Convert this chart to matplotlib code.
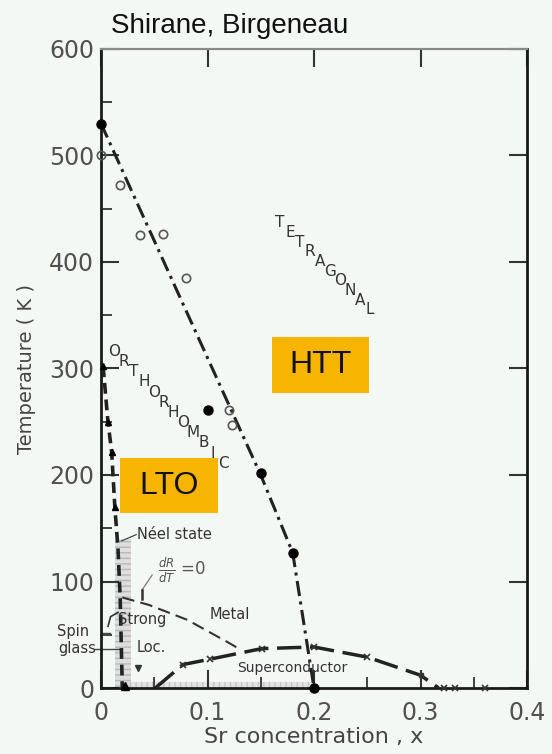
import numpy as np
import matplotlib
matplotlib.use('Agg')
import matplotlib.pyplot as plt
from matplotlib.patches import Rectangle
from matplotlib.ticker import MultipleLocator

## orthorhombic -> tetragonal transition
ot_filled_x = [0.0, 0.1, 0.15, 0.18, 0.2]
ot_filled_T = [530, 261, 202, 127, 0]
ot_open_x = [0.0, 0.018, 0.037, 0.058, 0.08, 0.12, 0.123]
ot_open_T = [500, 472, 425, 426, 385, 261, 247]
ot_line_x = [0.0, 0.075, 0.15, 0.18, 0.2]
ot_line_T = [530, 365, 200, 127, 0]

## Neel line
neel_x = [0.002, 0.0065, 0.01, 0.013, 0.016, 0.018, 0.02]
neel_T = [302, 250, 222, 170, 130, 85, 0]
neel_tri_x = [0.002, 0.0065, 0.01, 0.013]
neel_tri_T = [302, 250, 222, 170]

## dR/dT = 0 boundary (metal / strong localisation)
metal_x = [0.02, 0.045, 0.081, 0.119, 0.131]
metal_T = [85, 78, 64, 43, 36]

## superconducting dome
sc_x = [0.051, 0.077, 0.102, 0.151, 0.2, 0.25, 0.30, 0.317]
sc_T = [0, 22, 27, 37, 38.5, 29, 12, 0]
sc_mark_x = [0.077, 0.102, 0.151, 0.2, 0.25, 0.322, 0.332, 0.361]
sc_mark_T = [22, 27, 37, 38.5, 29, 0, 0, 0]

bg = '#f4f8f5'
orange = '#f7b400'
ink = '#222222'
grey = '#505050'

fig = plt.figure(figsize=(5.52, 7.54), dpi=100, facecolor=bg)
ax = fig.add_axes([101/552, 1-688/754, 426/552, 639/754], facecolor=bg)
ax.set_xlim(0, 0.4)
ax.set_ylim(0, 600)

## faded hatched regions
ax.fill_between([0.013, 0.028], 0, 140, facecolor='#d4d4d4', edgecolor='#a8a8a8',
                hatch='---', lw=0, alpha=0.7, zorder=1)
ax.fill_between([0.02, 0.2], 0, 6, facecolor='#d8d8d8', edgecolor='#b0b0b0',
                hatch='|||', lw=0, alpha=0.6, zorder=1)

## phase boundaries
ax.plot(ot_line_x, ot_line_T, color=ink, lw=2.2, dashes=(5, 1.8, 1, 1.8), zorder=3)
ax.plot(ot_filled_x, ot_filled_T, 'o', color='k', ms=6.5, zorder=4, clip_on=False)
ax.plot(ot_open_x, ot_open_T, 'o', mfc='none', mec='#555555', mew=1.2, ms=6, zorder=4, clip_on=False)

ax.plot(neel_x, neel_T, color=ink, lw=2.6, dashes=(3, 1.6), zorder=3)
ax.plot(neel_tri_x, neel_tri_T, '^', color='k', ms=5, zorder=4, clip_on=False)
ax.plot([0.0225], [2], '^', color='k', ms=6, zorder=4, clip_on=False)
ax.plot([0.035], [19], 'v', color='#333333', ms=5, zorder=4)

ax.plot(metal_x, metal_T, color='#333333', lw=1.5, dashes=(6, 3), zorder=3)

ax.plot(sc_x, sc_T, color=ink, lw=2.5, dashes=(7, 2.5), zorder=3)
ax.plot(sc_mark_x, sc_mark_T, 'x', color='#333333', ms=4.5, mew=1.2, zorder=4, clip_on=False)
ax.plot([0.30], [12], 's', color='#333333', ms=3.5, zorder=4)

## phase labels
ax.add_patch(Rectangle((0.1606, 277), 0.091, 52.6, facecolor=orange, edgecolor='none', zorder=5))
ax.text(0.2061, 303, 'HTT', fontsize=23, family='Liberation Sans', ha='center', va='center',
        color='#111111', zorder=6)
ax.add_patch(Rectangle((0.0178, 164), 0.092, 52, facecolor=orange, edgecolor='none', zorder=5))
ax.text(0.0638, 190, 'LTO', fontsize=23, family='Liberation Sans', ha='center', va='center',
        color='#111111', zorder=6)

## staircase lettering
def stair(word, p0, p1, size):
    xs = np.linspace(p0[0], p1[0], len(word))
    ys = np.linspace(p0[1], p1[1], len(word))
    for ch, xx, yy in zip(word, xs, ys):
        ax.text(xx, yy, ch, fontsize=size, color='#333333', ha='center', va='center', zorder=4)

stair('ORTHORHOMBIC', (0.0125, 316), (0.1146, 211), 11)
stair('TETRAGONAL', (0.168, 437), (0.2526, 355), 11)

small = dict(fontsize=10.5, color='#333333', zorder=4)
ax.text(0.034, 144, 'Néel state', ha='left', va='center', **small)
ax.plot([0.019, 0.033], [138, 144], color='#444444', lw=0.9)
ax.text(0.0535, 110, r'$\frac{dR}{dT}$ =0', ha='left', va='center', fontsize=12, color='#555555', zorder=4)
ax.plot([0.048, 0.0385], [106, 92], color='#777777', lw=0.9)
ax.plot([0.0385, 0.0385], [92, 84], color='#333333', lw=1.8)
ax.text(0.121, 69, 'Metal', ha='center', va='center', **small)
ax.text(0.0385, 64, 'Strong', ha='center', va='center', **small)
ax.text(0.047, 38, 'Loc.', ha='center', va='center', **small)
ax.plot([0.016, 0.009, 0.0066], [71, 67, 58], color='#333333', lw=1.2)
ax.text(0.18, 19, 'Superconductor', ha='center', va='center', fontsize=10, color='#333333', zorder=4)
ax.text(-0.026, 53, 'Spin', ha='center', va='center', clip_on=False, **small)
ax.text(-0.0225, 37, 'glass', ha='center', va='center', clip_on=False, **small)
ax.plot([-0.006, 0.02], [37, 37], color='#444444', lw=1.0, clip_on=False)
ax.plot([0.0, 0.008], [52, 52], color='#444444', lw=1.0)

## axes styling
for side in ['left', 'right', 'bottom']:
    ax.spines[side].set_linewidth(2)
    ax.spines[side].set_color('#1a1a1a')
ax.spines['top'].set_linewidth(1.6)
ax.spines['top'].set_color('#8a8a8a')

ax.xaxis.set_major_locator(MultipleLocator(0.1))
ax.xaxis.set_minor_locator(MultipleLocator(0.05))
ax.yaxis.set_major_locator(MultipleLocator(100))
ax.yaxis.set_minor_locator(MultipleLocator(50))
ax.tick_params(which='major', direction='in', length=13, width=1.5, color='#333333',
               top=True, right=True, labelsize=17, labelcolor=grey)
ax.tick_params(which='minor', direction='in', length=8, width=1.3, color='#333333')
ax.tick_params(axis='x', which='major', pad=9)
ax.tick_params(axis='y', which='major', pad=5)
ax.set_xticks([0, 0.1, 0.2, 0.3, 0.4])
ax.set_xticklabels(['0', '0.1', '0.2', '0.3', '0.4'])

ax.set_xlabel('Sr concentration , x', fontsize=16, color='#444444', labelpad=2)
ax.set_ylabel('Temperature ( K )', fontsize=14, color='#444444', labelpad=9)

fig.text(111/552, 1-33/754, 'Shirane, Birgeneau', fontsize=20, family='Liberation Sans',
         ha='left', va='baseline', color='#111111')

fig.savefig('out.png', dpi=100, facecolor=bg)
plt.close()
